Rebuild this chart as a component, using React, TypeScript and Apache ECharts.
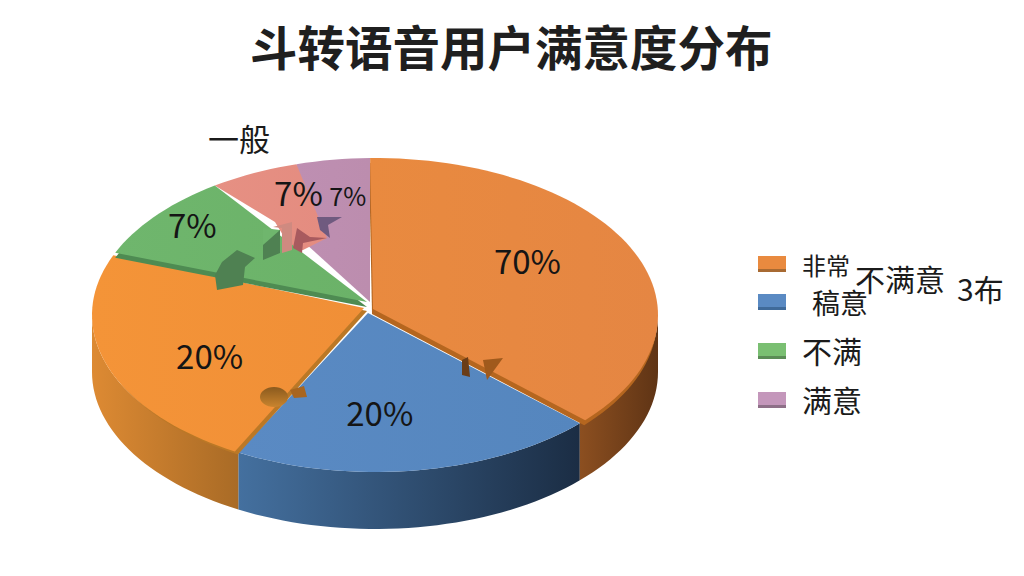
import React, { useEffect, useRef } from "react";
import * as echarts from "echarts";

const titleText = "斗转语音用户满意度分布";
const sliceNames = ["非常", "稿意", "桔色", "不满", "一般", "满意"];
const sliceShares = [37.4, 20.9, 23.3, 9.1, 5.1, 4.2];
const sliceLabels = ["70%", "20%", "20%", "7%", "7%", "7%"];
const legendNames = ["非常", "稿意", "不满", "满意"];

const CX = 375, CY = 315, RX = 283, RY = 157, DEPTH = 57, START = -1;
const FONT = '"Noto Sans CJK SC","Noto Sans",sans-serif';

type Look = {
  face: string[]; wall?: string[]; seam: string; shift: [number, number];
  apex: number[][]; pad: [number, number]; labelFont: number; labelShift: [number, number];
};
const looks: Look[] = [
  { face: ["#E98A3F", "#E58643"], wall: ["#8C4F20", "#5F3415"], seam: "#B5661F", shift: [-1, 5], apex: [[373, 309]], pad: [0, 1.6], labelFont: 33, labelShift: [-3, -17] },
  { face: ["#5A8AC3", "#5586BE"], wall: ["#44709F", "#1B2D44"], seam: "#4A77A8", shift: [0, 0], apex: [[368, 313]], pad: [0, 0], labelFont: 33, labelShift: [-21, 4] },
  { face: ["#F49438", "#F08F37"], wall: ["#DD8A33", "#A96B26"], seam: "#BB7826", shift: [3, 3], apex: [[364, 308]], pad: [0.8, 0.4], labelFont: 33, labelShift: [-5, 9] },
  { face: ["#6FB66D", "#6BB268"], seam: "#4E8B52", shift: [0, 5], apex: [[367, 302]], pad: [0.6, 0], labelFont: 33, labelShift: [-51, -32] },
  { face: ["#E69083", "#E48C80"], seam: "#C87F78", shift: [0, 0], apex: [[327, 238], [303, 250], [292, 250], [275, 222]], pad: [0, 0], labelFont: 33, labelShift: [-4, -38] },
  { face: ["#BE8FB2", "#BC8DAE"], seam: "#9D7C97", shift: [0, 0], apex: [[370, 302], [305, 243]], pad: [0, 0], labelFont: 25, labelShift: [-2, -27] },
];
const paintOrder = [1, 0, 2, 5, 4, 3];

const point = (deg: number, dy = 0) => {
  const r = (deg * Math.PI) / 180;
  return [CX + RX * Math.sin(r), CY - RY * Math.cos(r) + dy];
};
const arc = (a0: number, a1: number, dy = 0) => {
  const out: number[][] = [];
  const n = Math.max(2, Math.ceil(Math.abs(a1 - a0) / 2));
  for (let i = 0; i <= n; i++) out.push(point(a0 + ((a1 - a0) * i) / n, dy));
  return out;
};
const bounds = sliceShares.reduce<number[]>((acc, v) => [...acc, acc[acc.length - 1] + (v / 100) * 360], [START]);
const grad = (c: string[]) =>
  new echarts.graphic.LinearGradient(0, 0, 1, 0, [{ offset: 0, color: c[0] }, { offset: 1, color: c[1] }]);

const renderSlice = (i: number) => (_p: any, _api: any) => {
  const look = looks[i];
  const a0 = bounds[i] + look.pad[0];
  const a1 = bounds[i + 1] - look.pad[1];
  const facePts = [...arc(a0, a1), ...look.apex];
  const children: any[] = [];
  const w0 = Math.max(bounds[i], 90), w1 = Math.min(bounds[i + 1], 270);
  if (look.wall && w1 > w0) {
    const top = arc(w0, w1);
    const bottom = arc(w0, w1, DEPTH).reverse();
    children.push({ type: "polygon", shape: { points: [...top, ...bottom] }, style: { fill: grad(look.wall) } });
  }
  if (look.shift[0] || look.shift[1]) {
    children.push({
      type: "polygon",
      shape: { points: facePts.map((p) => [p[0] + look.shift[0], p[1] + look.shift[1]]) },
      style: { fill: look.seam },
    });
  }
  children.push({ type: "polygon", shape: { points: facePts }, style: { fill: grad(look.face) } });
  const mid = (bounds[i] + bounds[i + 1]) / 2;
  const r = (mid * Math.PI) / 180;
  children.push({
    type: "text",
    z2: 50,
    style: {
      x: CX + 0.6 * RX * Math.sin(r) + look.labelShift[0],
      y: CY - 0.6 * RY * Math.cos(r) + look.labelShift[1],
      text: sliceLabels[i],
      fill: "#151515",
      font: `${look.labelFont}px ${FONT}`,
      align: "center",
      verticalAlign: "middle",
    },
  });
  return { type: "group", children };
};

const poly = (points: number[][], fill: string) => ({ type: "polygon", z: 20, shape: { points }, style: { fill } });
const label = (text: string, x: number, y: number, size: number, weight = 400) => ({
  type: "text", z: 30, x, y,
  style: { text, fill: "#1b1b1b", font: `${weight} ${size}px ${FONT}`, align: "left", verticalAlign: "middle" },
});
const swatch = (y: number, color: string, edge: string) => [
  { type: "rect", z: 30, shape: { x: 758, y, width: 28, height: 15 }, style: { fill: color } },
  { type: "rect", z: 30, shape: { x: 758, y: y + 13, width: 28, height: 3 }, style: { fill: edge } },
];

export default function App() {
  const ref = useRef<HTMLDivElement>(null);
  useEffect(() => {
    document.body.style.margin = "0";
    const chart = echarts.init(ref.current!, undefined, { renderer: "svg" });
    chart.setOption({
      animation: false,
      backgroundColor: "#ffffff",
      title: {
        text: titleText, left: 245, top: 17,
        textStyle: { fontFamily: FONT, fontSize: 47.5, fontWeight: 700, color: "#1f1f1f" },
      },
      xAxis: { show: false }, yAxis: { show: false },
      series: paintOrder.map((i) => ({
        type: "custom",
        name: sliceNames[i],
        coordinateSystem: "none",
        silent: true,
        data: [sliceShares[i]],
        renderItem: renderSlice(i),
      })),
      graphic: [
        poly([[263, 228], [280, 230], [280, 240], [263, 246]], "#6FB66D"),
        poly([[263, 245], [280, 230], [280, 253], [263, 260]], "#4F8152"),
        poly([[215, 275], [222, 262], [237, 250], [255, 258], [245, 267], [243, 285], [217, 290]], "#4F8152"),
        poly([[273, 227], [292, 222], [292, 250], [282, 253], [282, 228]], "#CF8A80"),
        poly([[293, 248], [297, 228], [310, 237], [327, 238], [303, 243], [302, 253]], "#A85A5E"),
        poly([[317, 217], [342, 217], [328, 225], [330, 238], [320, 230]], "#6F5A7F"),
        {
          type: "ellipse", z: 20, shape: { cx: 274, cy: 397, rx: 14, ry: 10 },
          style: { fill: new echarts.graphic.LinearGradient(0, 0, 0, 1, [{ offset: 0, color: "#8A5A1E" }, { offset: 1, color: "#C9842E" }]) },
        },
        poly([[290, 390], [304, 386], [307, 397], [294, 398]], "#A8651F"),
        poly([[462, 360], [468, 357], [470, 377], [462, 375]], "#6A3D18"),
        poly([[483, 360], [503, 358], [487, 380]], "#A05A1C"),
        label("一般", 208, 137, 31),
        label(legendNames[0], 802, 264, 24),
        label("不满意", 855, 278, 30),
        label("3布", 957, 288, 30),
        label(legendNames[1], 812, 302, 28),
        label(legendNames[2], 802, 350, 30),
        label(legendNames[3], 802, 399, 30),
        ...swatch(256, "#E98A3F", "#A86A32"),
        ...swatch(294, "#5A8AC3", "#3F6A9A"),
        ...swatch(343, "#7ABF72", "#5B8C56"),
        ...swatch(392, "#C497BB", "#8E7088"),
      ],
    });
    return () => chart.dispose();
  }, []);
  return <div ref={ref} style={{ position: "fixed", left: 0, top: 0, width: 1024, height: 576 }} />;
}
